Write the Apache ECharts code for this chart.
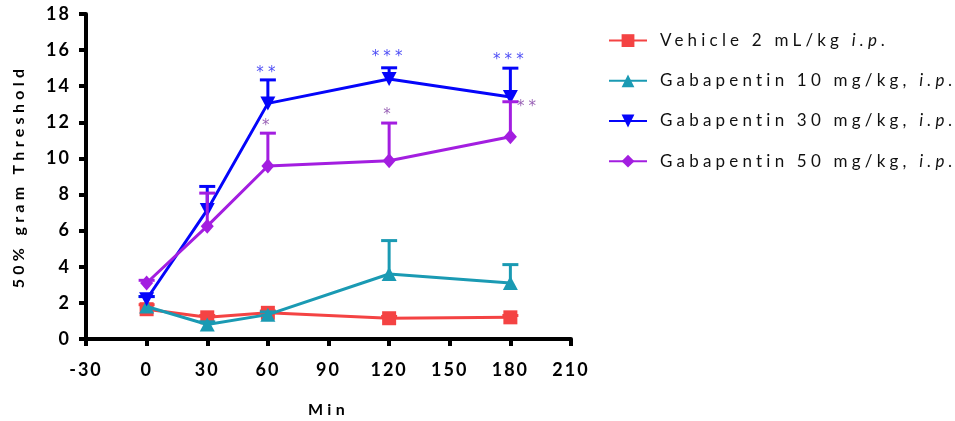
<!DOCTYPE html>
<html><head><meta charset="utf-8">
<script src="https://cdn.jsdelivr.net/npm/echarts@6/dist/echarts.min.js"></script>
<style>html,body{margin:0;padding:0;background:#fff}#c{width:955px;height:421px}</style>
</head><body><div id="c"></div>
<script>
// letter-spaced text like the reference (canvas letterSpacing, measured consistently)
(function(){
  var P = CanvasRenderingContext2D.prototype;
  var d = Object.getOwnPropertyDescriptor(P, 'font');
  if (d && d.set && ('letterSpacing' in P)) {
    Object.defineProperty(P, 'font', {configurable:true, enumerable:d.enumerable,
      get: function(){ return d.get.call(this); },
      set: function(v){ d.set.call(this, v);
        var m = /(\d+(?:\.\d+)?)px/.exec(v); var s = m ? parseFloat(m[1]) : 12;
        var sp = s >= 17.5 ? 2 : (s >= 16.5 ? 4.2 : s * 0.27);
        this.letterSpacing = sp.toFixed(1) + 'px'; }
    });
  }
})();

const times = [0, 30, 60, 120, 180];
const seriesNames = ['Vehicle 2 mL/kg i.p.', 'Gabapentin 10 mg/kg, i.p.', 'Gabapentin 30 mg/kg, i.p.', 'Gabapentin 50 mg/kg, i.p.'];
const vehicleMean  = [1.65, 1.2, 1.45, 1.15, 1.2];
const vehicleUpper = [1.9, 1.3, 1.55, 1.25, 1.3];
const gaba10Mean   = [1.8, 0.8, 1.35, 3.6, 3.1];
const gaba10Upper  = [2.35, 0.95, 1.5, 5.45, 4.12];
const gaba30Mean   = [2.2, 7.15, 13.05, 14.4, 13.4];
const gaba30Upper  = [2.35, 8.45, 14.35, 15.02, 15.0];
const gaba50Mean   = [3.1, 6.25, 9.58, 9.87, 11.2];
const gaba50Upper  = [3.25, 8.08, 11.4, 11.96, 13.14];
const xTicks = [-30, 0, 30, 60, 90, 120, 150, 180, 210];
const yTicks = [0, 2, 4, 6, 8, 10, 12, 14, 16, 18];
const starBlueX = [60, 120, 180];
const starBlueY = [14.7, 15.6, 15.45];
const starBlueText = ['**', '***', '***'];
const starPurpleX = [60, 120, 189];
const starPurpleY = [11.8, 12.4, 12.85];
const starPurpleText = ['*', '*', '**'];

const colors = ['#f44343', '#1a9ab3', '#0505fa', '#a31ee0'];
const FONT = 'Lato';

function errSeries(name, means, uppers, color, z) {
  return {
    type: 'custom', name: name + ' SEM', z: z, silent: true,
    data: times.map((t, i) => [t, means[i], uppers[i]]),
    encode: {x: 0, y: [1, 2]},
    renderItem: function(params, api) {
      const x = api.value(0);
      const p0 = api.coord([x, api.value(1)]);
      const p1 = api.coord([x, api.value(2)]);
      const hw = 8;
      return {type: 'group', children: [
        {type: 'line', shape: {x1: p0[0], y1: p0[1], x2: p1[0], y2: p1[1]}, style: {stroke: color, lineWidth: 3}},
        {type: 'line', shape: {x1: p1[0] - hw, y1: p1[1], x2: p1[0] + hw, y2: p1[1]}, style: {stroke: color, lineWidth: 3}}
      ]};
    }
  };
}
function lineSeries(name, means, color, symbol, size, rotate, z) {
  return {
    type: 'line', name: name, z: z, symbol: symbol, symbolSize: size, symbolRotate: rotate,
    data: times.map((t, i) => [t, means[i]]),
    lineStyle: {color: color, width: 3}, itemStyle: {color: color}
  };
}
function starSeries(xs, ys, texts, color) {
  return {
    type: 'scatter', symbolSize: 0, z: 10, silent: true,
    data: xs.map((x, i) => [x, ys[i], texts[i]]),
    label: {show: true, position: 'inside', color: color, fontFamily: 'DejaVu Sans', fontSize: 15,
      formatter: p => p.data[2]}
  };
}

const chart = echarts.init(document.getElementById('c'), null, {renderer: 'canvas'});
chart.setOption({
  animation: false,
  backgroundColor: '#fff',
  grid: {left: 86, top: 14, right: 384, bottom: 82, outerBoundsMode: 'none', containLabel: false},
  xAxis: {
    type: 'value', min: xTicks[0], max: xTicks[xTicks.length - 1], interval: 30,
    name: 'Min', nameLocation: 'middle', nameGap: 61,
    nameTextStyle: {fontFamily: FONT, fontWeight: 'bold', fontSize: 16, color: '#000'},
    axisLine: {onZero: false, lineStyle: {color: '#000', width: 4}},
    axisTick: {length: 7, lineStyle: {color: '#000', width: 4}},
    axisLabel: {fontFamily: FONT, fontWeight: 'bold', fontSize: 18, color: '#000', margin: 21},
    splitLine: {show: false}
  },
  yAxis: {
    type: 'value', min: yTicks[0], max: yTicks[yTicks.length - 1], interval: 2,
    name: '50% gram Threshold', nameLocation: 'middle', nameGap: 57,
    nameTextStyle: {fontFamily: FONT, fontWeight: 'bold', fontSize: 16, color: '#000'},
    axisLine: {show: true, onZero: false, lineStyle: {color: '#000', width: 4}},
    axisTick: {show: true, length: 7, lineStyle: {color: '#000', width: 4}},
    axisLabel: {fontFamily: FONT, fontWeight: 'bold', fontSize: 18, color: '#000', margin: 15},
    splitLine: {show: false}
  },
  legend: {
    orient: 'vertical', left: 603, top: 25, itemWidth: 38, itemHeight: 16, itemGap: 19,
    selectedMode: false, data: seriesNames,
    formatter: n => n.replace(/i\.p\.$/, '{i|i.p.}'),
    textStyle: {fontFamily: FONT, fontSize: 17, color: '#111', lineHeight: 16, padding: [0, 0, 0, 8],
      rich: {i: {fontFamily: FONT, fontSize: 17, fontStyle: 'italic', color: '#111', lineHeight: 16}}}
  },
  series: [
    errSeries(seriesNames[0], vehicleMean, vehicleUpper, colors[0], 2),
    lineSeries(seriesNames[0], vehicleMean, colors[0], 'rect', 14, 0, 2),
    errSeries(seriesNames[1], gaba10Mean, gaba10Upper, colors[1], 3),
    lineSeries(seriesNames[1], gaba10Mean, colors[1], 'triangle', [15, 14], 0, 3),
    errSeries(seriesNames[2], gaba30Mean, gaba30Upper, colors[2], 4),
    lineSeries(seriesNames[2], gaba30Mean, colors[2], 'triangle', [15, 14], 180, 4),
    errSeries(seriesNames[3], gaba50Mean, gaba50Upper, colors[3], 5),
    lineSeries(seriesNames[3], gaba50Mean, colors[3], 'diamond', [13, 15], 0, 5),
    starSeries(starBlueX, starBlueY, starBlueText, '#1c1cf2'),
    starSeries(starPurpleX, starPurpleY, starPurpleText, '#7e3aa3')
  ]
});
</script></body></html>
